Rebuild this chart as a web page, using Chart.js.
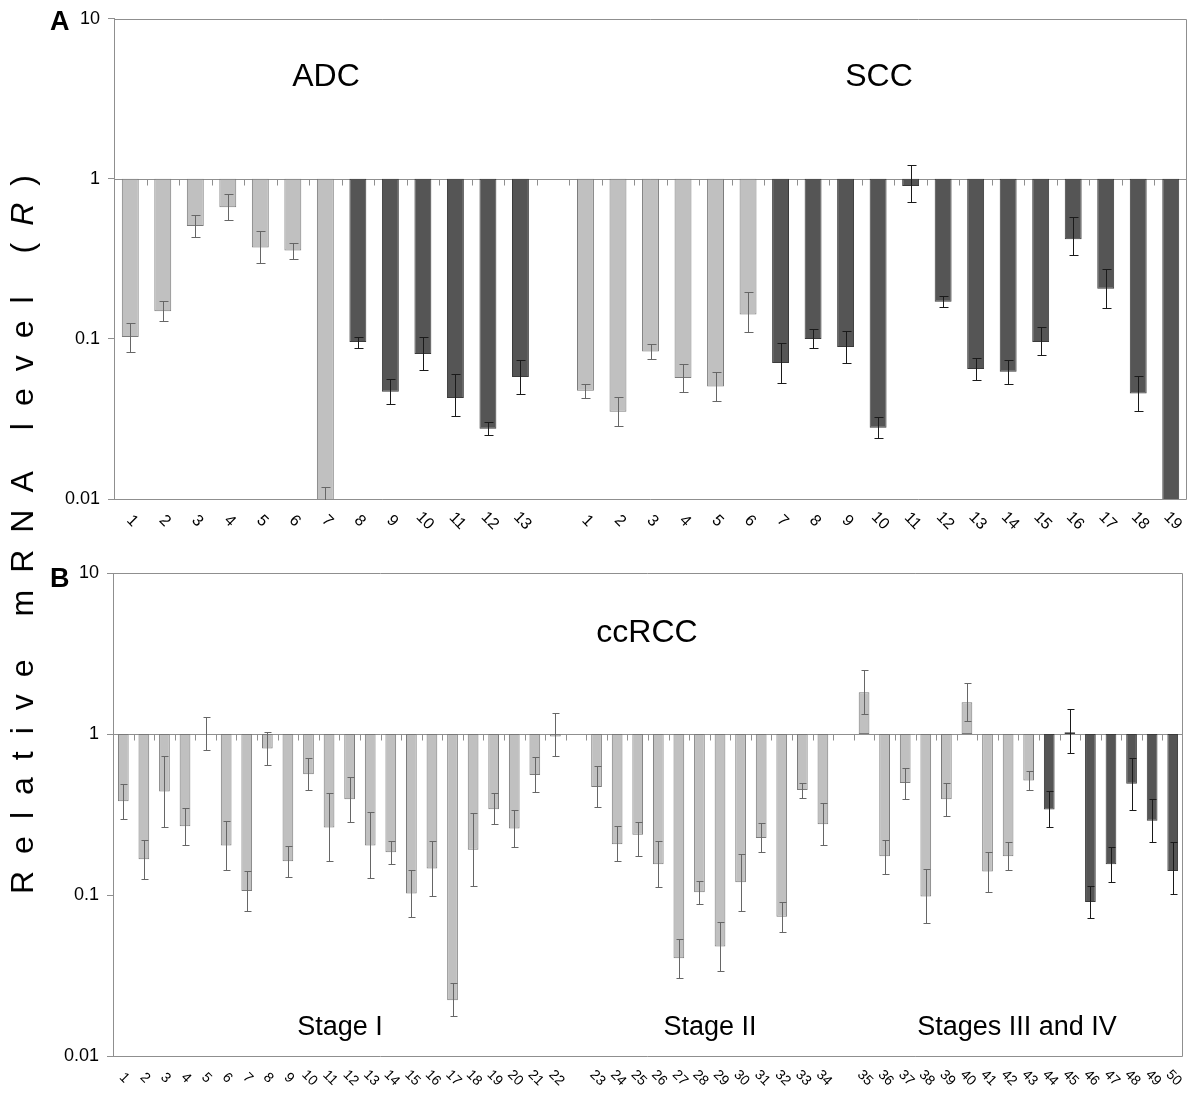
<!DOCTYPE html>
<html>
<head>
<meta charset="utf-8">
<script src="https://cdn.jsdelivr.net/npm/chart.js@4.4.0/dist/chart.umd.min.js"></script>
<style>
    body { margin: 0; background: #fff; }
    #cadre { position: relative; width: 1189px; height: 1093px; overflow: hidden; }
    #graphA { position: absolute; left: 0; top: 0; }
    #graphB { position: absolute; left: 0; top: 545px; }
    #titreY {
        position: absolute;
        left: 22px;
        top: 526px;
        transform: translate(-50%, -50%) rotate(-90deg);
        font: 32px "Liberation Sans", Arial, sans-serif;
        line-height: 32px;
        letter-spacing: 17px;
        white-space: nowrap;
        color: #000;
    }
</style>
</head>
<body>
<div id="cadre">
    <canvas id="graphA" width="1189" height="545"></canvas>
    <canvas id="graphB" width="1189" height="548"></canvas>
    <div id="titreY">Relative mRNA level (<i>R</i>)</div>
</div>
<script>
// Graduations de l'axe vertical (échelle log)
const yTicks = [0.01, 0.1, 1, 10];

// Panneau A : ADC (13 patients)
const adcLabels = ["1", "2", "3", "4", "5", "6", "7", "8", "9", "10", "11", "12", "13"];
const adcValues = [0.103, 0.149, 0.507, 0.665, 0.373, 0.357, 0.0098, 0.0956, 0.0468, 0.0805, 0.0428, 0.0275, 0.0578];
const adcHigh = [0.126, 0.173, 0.593, 0.80, 0.47, 0.40, 0.0118, 0.103, 0.056, 0.103, 0.0605, 0.0302, 0.074];
const adcLow = [0.083, 0.130, 0.434, 0.552, 0.296, 0.318, 0.008, 0.088, 0.039, 0.0636, 0.033, 0.025, 0.0456];
const adcShade = [0, 0, 0, 0, 0, 0, 0, 1, 1, 1, 1, 1, 1];

// Panneau A : SCC (19 patients)
const sccLabels = ["1", "2", "3", "4", "5", "6", "7", "8", "9", "10", "11", "12", "13", "14", "15", "16", "17", "18", "19"];
const sccValues = [0.0475, 0.0351, 0.0834, 0.057, 0.0505, 0.142, 0.0707, 0.1, 0.089, 0.0279, 0.904, 0.171, 0.0649, 0.0623, 0.0956, 0.419, 0.206, 0.0456, 0.0095];
const sccHigh = [0.0526, 0.0436, 0.0932, 0.070, 0.0623, 0.196, 0.0937, 0.1146, 0.1117, 0.0323, 1.216, 0.185, 0.0762, 0.0736, 0.119, 0.575, 0.272, 0.0587, null];
const sccLow = [0.0425, 0.0285, 0.0747, 0.0463, 0.0409, 0.111, 0.0533, 0.0877, 0.071, 0.0239, 0.714, 0.159, 0.055, 0.0526, 0.0797, 0.334, 0.156, 0.0355, null];
const sccShade = [0, 0, 0, 0, 0, 0, 1, 1, 1, 1, 1, 1, 1, 1, 1, 1, 1, 1, 1];

// Panneau B : ccRCC, stade I (1-22)
const stage1Labels = ["1", "2", "3", "4", "5", "6", "7", "8", "9", "10", "11", "12", "13", "14", "15", "16", "17", "18", "19", "20", "21", "22"];
const stage1Values = [0.382, 0.167, 0.44, 0.267, 1.0, 0.203, 0.106, 0.813, 0.162, 0.563, 0.263, 0.393, 0.203, 0.184, 0.102, 0.146, 0.0222, 0.191, 0.341, 0.259, 0.557, 0.965];
const stage1High = [0.489, 0.221, 0.735, 0.345, 1.27, 0.288, 0.141, 1.035, 0.201, 0.71, 0.428, 0.538, 0.33, 0.217, 0.144, 0.218, 0.0283, 0.323, 0.428, 0.336, 0.717, 1.35];
const stage1Low = [0.298, 0.126, 0.265, 0.203, 0.79, 0.143, 0.08, 0.638, 0.130, 0.449, 0.163, 0.285, 0.127, 0.155, 0.073, 0.099, 0.0176, 0.113, 0.275, 0.198, 0.435, 0.731];
const stage1Shade = [0, 0, 0, 0, 0, 0, 0, 0, 0, 0, 0, 0, 0, 0, 0, 0, 0, 0, 0, 0, 0, 0];

// stade II (23-34)
const stage2Labels = ["23", "24", "25", "26", "27", "28", "29", "30", "31", "32", "33", "34"];
const stage2Values = [0.469, 0.207, 0.237, 0.155, 0.0404, 0.104, 0.0478, 0.12, 0.226, 0.0733, 0.449, 0.275];
const stage2High = [0.629, 0.267, 0.286, 0.215, 0.0536, 0.123, 0.0676, 0.179, 0.279, 0.091, 0.494, 0.374];
const stage2Low = [0.352, 0.162, 0.175, 0.112, 0.0306, 0.088, 0.0337, 0.0795, 0.185, 0.059, 0.403, 0.203];
const stage2Shade = [0, 0, 0, 0, 0, 0, 0, 0, 0, 0, 0, 0];

// stades III et IV (35-50)
const stage34Labels = ["35", "36", "37", "38", "39", "40", "41", "42", "43", "44", "45", "46", "47", "48", "49", "50"];
const stage34Values = [1.82, 0.174, 0.496, 0.098, 0.393, 1.575, 0.14, 0.174, 0.514, 0.34, 1.025, 0.0906, 0.155, 0.491, 0.289, 0.141];
const stage34High = [2.5, 0.221, 0.619, 0.146, 0.496, 2.07, 0.185, 0.212, 0.592, 0.44, 1.42, 0.114, 0.2, 0.706, 0.397, 0.212];
const stage34Low = [1.33, 0.135, 0.397, 0.0667, 0.31, 1.2, 0.105, 0.142, 0.446, 0.265, 0.765, 0.0715, 0.121, 0.338, 0.214, 0.101];
const stage34Shade = [0, 0, 0, 0, 0, 0, 0, 0, 0, 1, 1, 1, 1, 1, 1, 1];

const police = '"Liberation Sans", Arial, sans-serif';
const couleurs = {
    fond: ["#c0c0c0", "#555555"],
    bord: ["#7a7a7a", "#3a3a3a"],
    erreur: ["#666666", "#1a1a1a"],
    cadre: "#8f8f8f",
};

// met les groupes bout à bout avec une case vide entre chacun
function joindre(groupes, vide) {
    const res = [];
    groupes.forEach((g, k) => {
        if (k > 0) res.push(vide);
        res.push(...g);
    });
    return res;
}

function creerPlugin(cfg) {
    return {
        id: "panneau",
        beforeDatasetsDraw(chart) {
            const { ctx, chartArea: a, scales: { x, y } } = chart;
            ctx.save();
            ctx.strokeStyle = couleurs.cadre;
            ctx.lineWidth = 1;
            ctx.beginPath();
            ctx.moveTo(a.left, Math.round(a.top) + 0.5);
            ctx.lineTo(a.right - 0.5, Math.round(a.top) + 0.5);
            ctx.lineTo(a.right - 0.5, Math.round(a.bottom) + 0.5);
            ctx.lineTo(a.left, Math.round(a.bottom) + 0.5);
            // axe des catégories qui croise à 1
            const y1 = Math.round(y.getPixelForValue(1)) + 0.5;
            ctx.moveTo(a.left, y1);
            ctx.lineTo(a.right, y1);
            for (let i = 0; i < cfg.labels.length - 1; i++) {
                const xb = Math.round((x.getPixelForValue(i) + x.getPixelForValue(i + 1)) / 2) + 0.5;
                ctx.moveTo(xb, y1);
                ctx.lineTo(xb, y1 + 6);
            }
            ctx.stroke();
            ctx.restore();
        },
        afterDatasetsDraw(chart) {
            const { ctx, chartArea: a, scales: { y } } = chart;
            const meta = chart.getDatasetMeta(0);
            ctx.save();
            ctx.beginPath();
            ctx.rect(a.left, a.top, a.right - a.left, a.bottom - a.top + 1);
            ctx.clip();
            ctx.lineWidth = 1;
            cfg.hauts.forEach((h, i) => {
                if (h == null) return;
                const el = meta.data[i];
                const xc = Math.round(el.x) + 0.5;
                const yh = Math.round(y.getPixelForValue(h)) + 0.5;
                const yb = Math.round(y.getPixelForValue(cfg.bas[i])) + 0.5;
                ctx.strokeStyle = couleurs.erreur[cfg.teintes[i]];
                ctx.beginPath();
                ctx.moveTo(xc, yh);
                ctx.lineTo(xc, yb);
                ctx.moveTo(xc - cfg.cap, yh);
                ctx.lineTo(xc + cfg.cap + 1, yh);
                ctx.moveTo(xc - cfg.cap, yb);
                ctx.lineTo(xc + cfg.cap + 1, yb);
                ctx.stroke();
            });
            ctx.restore();
        },
        afterDraw(chart) {
            const { ctx, chartArea: a, scales: { x } } = chart;
            ctx.save();
            ctx.fillStyle = "#000";
            // étiquettes inclinées sous le cadre
            ctx.font = cfg.tailleEtiq + "px " + police;
            ctx.textAlign = "center";
            ctx.textBaseline = "middle";
            cfg.labels.forEach((lab, i) => {
                if (!lab) return;
                ctx.save();
                ctx.translate(x.getPixelForValue(i) + cfg.decalEtiq, a.bottom + 22);
                ctx.rotate(Math.PI / 4);
                ctx.fillText(lab, 0, 0);
                ctx.restore();
            });
            // textes du panneau
            ctx.textBaseline = "alphabetic";
            cfg.textes.forEach(t => {
                ctx.font = t.f + " " + police;
                ctx.textAlign = t.align || "center";
                ctx.fillText(t.t, t.x, t.y);
            });
            ctx.restore();
        },
    };
}

function creerGraphique(canvas, cfg) {
    return new Chart(canvas, {
        type: "bar",
        data: {
            labels: cfg.labels,
            datasets: [
                {
                    data: cfg.valeurs.map(v => (v == null ? null : [1, v])),
                    backgroundColor: cfg.teintes.map(s => (s == null ? "transparent" : couleurs.fond[s])),
                    borderColor: cfg.teintes.map(s => (s == null ? "transparent" : couleurs.bord[s])),
                    borderWidth: 1,
                    borderSkipped: false,
                    barPercentage: 0.52,
                    categoryPercentage: 1,
                },
            ],
        },
        options: {
            responsive: false,
            animation: false,
            layout: { padding: cfg.padding },
            plugins: { legend: { display: false }, tooltip: { enabled: false } },
            scales: {
                x: { type: "category", display: false },
                y: {
                    type: "logarithmic",
                    min: 0.01,
                    max: 10,
                    afterBuildTicks: s => {
                        s.ticks = yTicks.map(v => ({ value: v }));
                    },
                    afterFit: s => {
                        s.width = cfg.largeurAxe;
                    },
                    ticks: {
                        callback: v => String(v),
                        color: "#000",
                        padding: 8,
                        autoSkip: false,
                        font: { family: police, size: 18 },
                    },
                    grid: {
                        display: true,
                        drawOnChartArea: false,
                        drawTicks: true,
                        tickLength: 6,
                        color: couleurs.cadre,
                    },
                    border: { display: true, color: couleurs.cadre },
                },
            },
        },
        plugins: [creerPlugin(cfg)],
    });
}

creerGraphique(document.getElementById("graphA"), {
    labels: joindre([adcLabels, sccLabels], ""),
    valeurs: joindre([adcValues, sccValues], null),
    hauts: joindre([adcHigh, sccHigh], null),
    bas: joindre([adcLow, sccLow], null),
    teintes: joindre([adcShade, sccShade], null),
    padding: { top: 16, right: 2, bottom: 46, left: 0 },
    largeurAxe: 114,
    cap: 4,
    tailleEtiq: 16,
    decalEtiq: 2,
    textes: [
        { t: "A", x: 50, y: 30, f: "bold 27px", align: "left" },
        { t: "ADC", x: 326, y: 86, f: "32px" },
        { t: "SCC", x: 879, y: 86, f: "32px" },
    ],
});

creerGraphique(document.getElementById("graphB"), {
    labels: joindre([stage1Labels, stage2Labels, stage34Labels], ""),
    valeurs: joindre([stage1Values, stage2Values, stage34Values], null),
    hauts: joindre([stage1High, stage2High, stage34High], null),
    bas: joindre([stage1Low, stage2Low, stage34Low], null),
    teintes: joindre([stage1Shade, stage2Shade, stage34Shade], null),
    padding: { top: 28, right: 6, bottom: 37, left: 0 },
    largeurAxe: 113,
    cap: 3,
    tailleEtiq: 14,
    decalEtiq: 1,
    textes: [
        { t: "B", x: 50, y: 42, f: "bold 27px", align: "left" },
        { t: "ccRCC", x: 647, y: 97, f: "32px" },
        { t: "Stage I", x: 340, y: 490, f: "27px" },
        { t: "Stage II", x: 710, y: 490, f: "27px" },
        { t: "Stages III and IV", x: 1017, y: 490, f: "27px" },
    ],
});
</script>
</body>
</html>
